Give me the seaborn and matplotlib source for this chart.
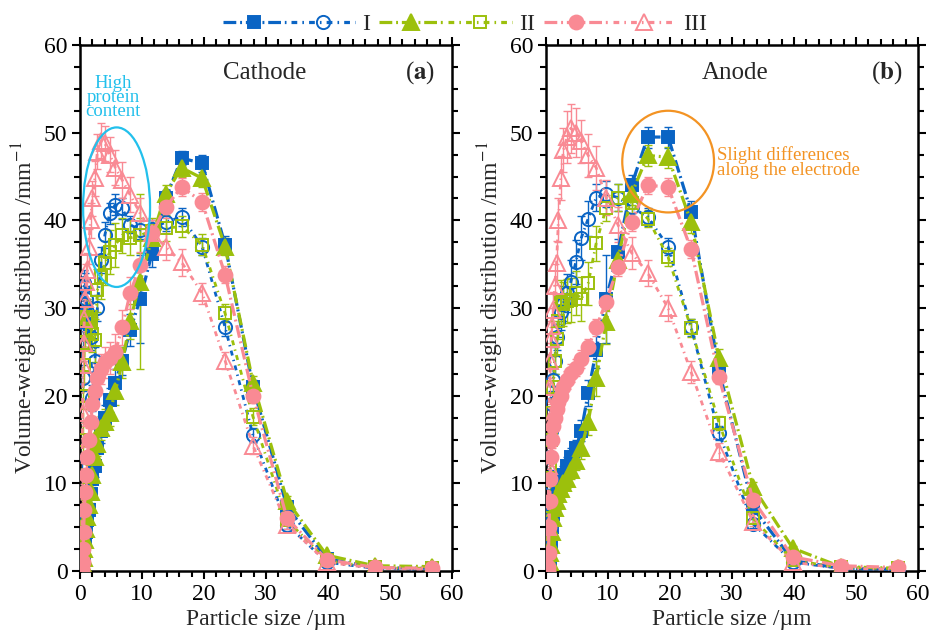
import matplotlib
matplotlib.use("Agg")
import matplotlib.pyplot as plt
import seaborn as sns
from matplotlib.lines import Line2D
from matplotlib.patches import Ellipse
from matplotlib.legend_handler import HandlerTuple
from matplotlib.ticker import MultipleLocator

# particle size bins (um)
size_um = [0.29, 0.34, 0.41, 0.49, 0.58, 0.70, 0.83, 1.0, 1.2, 1.4, 1.7, 2.0, 2.4, 2.8,
           3.4, 4.0, 4.8, 5.7, 6.8, 8.1, 9.7, 11.6, 13.8, 16.4, 19.7, 23.4, 27.9, 33.4,
           39.8, 47.5, 56.7]

# --- cathode (a) ---
cat_I = [0.0, 0.1, 0.3, 0.8, 1.5, 2.5, 3.5, 4.5, 5.8, 7.0, 8.8, 10.5, 12.0, 14.0, 16.0, 17.5,
         19.5, 21.5, 24.0, 27.5, 31.0, 36.2, 42.5, 47.1, 46.5, 37.2, 21.0, 7.3, 1.4, 0.4, 0.3]
cat_I_err = [0.1, 0.2, 0.3, 0.5, 0.6, 0.8, 0.8, 1.0, 1.0, 1.2, 1.2, 1.2, 1.3, 1.3, 1.4, 1.4,
             1.4, 1.5, 1.6, 1.8, 5.0, 1.5, 1.0, 0.8, 1.0, 1.0, 0.8, 0.6, 0.3, 0.2, 0.1]
cat_I_open = [0.0, 12.0, 22.0, 27.0, 30.5, 32.8, 32.5, 31.0, 29.5, 28.0, 26.7, 19.7, 24.0, 30.0,
              35.5, 38.3, 40.8, 41.8, 41.4, 39.5, 38.9, 39.0, 39.8, 40.4, 37.0, 27.8, 15.5, 5.3,
              1.0, 0.3, 0.2]
cat_I_open_err = [0.1, 1.0, 1.5, 1.5, 1.5, 1.5, 1.5, 1.5, 1.5, 1.5, 1.5, 1.5, 1.5, 1.5, 1.5, 1.5,
                  1.2, 1.2, 1.2, 1.0, 1.0, 1.0, 1.0, 1.0, 1.0, 1.0, 0.8, 0.5, 0.3, 0.2, 0.1]
cat_II = [0.0, 0.1, 0.3, 0.8, 1.5, 2.5, 3.5, 4.8, 6.2, 7.5, 9.0, 11.0, 13.0, 14.5, 16.3, 17.0,
          18.0, 20.5, 23.8, 28.5, 33.0, 38.0, 43.0, 46.0, 44.8, 37.0, 21.5, 8.0, 1.8, 0.6, 0.5]
cat_II_err = [0.1, 0.2, 0.3, 0.5, 0.6, 0.8, 0.9, 1.0, 1.0, 1.1, 1.2, 1.2, 1.3, 1.4, 1.4, 1.5,
              1.5, 1.6, 1.8, 2.0, 10.0, 1.5, 1.0, 1.0, 1.0, 1.0, 0.8, 0.6, 0.3, 0.2, 0.1]
cat_II_open = [0.0, 8.0, 15.0, 20.0, 23.5, 26.0, 27.5, 28.5, 29.0, 28.8, 28.6, 27.0, 26.3, 32.0,
               33.5, 35.1, 36.4, 37.2, 38.3, 38.0, 38.3, 38.8, 39.1, 39.3, 37.2, 29.4, 17.6, 5.8,
               1.2, 0.4, 0.3]
cat_II_open_err = [0.1, 1.0, 1.5, 1.5, 2.0, 2.0, 2.0, 2.0, 2.0, 2.0, 2.0, 2.0, 2.5, 2.5, 2.5, 2.5,
                   2.5, 2.5, 2.0, 2.0, 2.0, 1.5, 1.5, 1.2, 1.2, 1.0, 1.0, 0.5, 0.3, 0.2, 0.1]
cat_III = [0.0, 0.3, 1.0, 2.5, 4.5, 7.0, 9.0, 11.0, 13.0, 15.0, 17.0, 19.0, 20.5, 22.0, 23.0,
           23.8, 24.3, 25.0, 27.8, 31.7, 34.9, 38.5, 41.5, 43.8, 42.1, 33.8, 20.0, 6.0, 1.3,
           0.4, 0.3]
cat_III_err = [0.1, 0.2, 0.4, 0.6, 0.8, 1.0, 1.0, 1.2, 1.2, 1.3, 1.4, 1.5, 1.6, 1.6, 1.7, 1.8,
               1.8, 2.0, 2.0, 1.8, 1.5, 1.5, 1.2, 1.0, 1.0, 1.0, 0.8, 0.6, 0.3, 0.2, 0.1]
cat_III_open = [0.0, 10.0, 18.0, 23.5, 26.0, 28.8, 31.0, 33.0, 34.3, 37.0, 40.0, 42.5, 44.8,
                47.8, 49.1, 48.8, 47.5, 46.0, 44.6, 42.9, 40.8, 38.5, 37.0, 35.2, 31.7, 24.0,
                14.3, 5.3, 1.0, 0.3, 0.2]
cat_III_open_err = [0.1, 1.0, 1.5, 2.0, 2.0, 2.0, 2.0, 2.0, 2.0, 2.0, 2.0, 2.0, 2.0, 2.0, 2.0,
                    2.0, 2.0, 2.0, 2.0, 2.0, 1.8, 1.5, 1.5, 1.5, 1.2, 1.0, 1.0, 0.5, 0.3, 0.2, 0.1]

# --- anode (b) ---
an_I = [0.0, 0.1, 0.3, 0.5, 1.0, 2.0, 3.2, 5.0, 6.5, 7.7, 8.5, 9.2, 10.0, 11.0, 12.0, 13.0,
        14.0, 16.0, 20.3, 25.2, 31.0, 36.4, 44.0, 49.5, 49.5, 41.0, 22.9, 7.2, 1.2, 0.3, 0.2]
an_I_err = [0.1, 0.1, 0.2, 0.3, 0.5, 0.6, 0.8, 1.0, 1.0, 1.0, 1.0, 1.0, 1.0, 1.0, 1.0, 1.0,
            1.0, 1.2, 1.5, 2.0, 5.0, 1.5, 1.2, 1.2, 1.2, 1.2, 1.0, 0.6, 0.3, 0.2, 0.1]
an_I_open = [0.0, 2.0, 4.0, 7.0, 10.0, 13.0, 16.0, 19.0, 21.8, 24.0, 26.7, 28.5, 29.5, 30.5,
             31.7, 33.0, 35.2, 38.0, 40.2, 42.6, 43.0, 42.6, 41.5, 40.4, 37.0, 27.8, 15.7, 5.4,
             1.0, 0.3, 0.2]
an_I_open_err = [0.1, 0.5, 0.8, 1.0, 1.2, 1.5, 1.5, 1.5, 1.5, 1.5, 1.5, 1.8, 2.0, 2.0, 2.2, 2.5,
                 2.5, 2.5, 2.0, 1.5, 1.5, 1.5, 1.2, 1.0, 1.0, 1.0, 0.8, 0.5, 0.3, 0.2, 0.1]
an_II = [0.0, 0.1, 0.3, 0.5, 1.0, 2.0, 3.0, 4.5, 6.0, 7.2, 8.0, 8.8, 9.4, 10.0, 10.5, 11.5,
         12.5, 14.0, 17.0, 22.0, 28.4, 35.5, 43.0, 47.4, 47.2, 39.8, 24.3, 9.6, 2.6, 0.5, 0.3]
an_II_err = [0.1, 0.1, 0.2, 0.3, 0.5, 0.6, 0.8, 1.0, 1.0, 1.0, 1.0, 1.0, 1.0, 1.0, 1.0, 1.0,
             1.0, 1.2, 1.5, 2.0, 2.5, 1.5, 1.2, 1.2, 1.2, 1.2, 1.0, 0.6, 0.3, 0.2, 0.1]
an_II_open = [0.0, 1.5, 3.5, 6.0, 9.0, 12.0, 15.0, 18.0, 21.0, 24.0, 26.5, 28.5, 30.7, 30.5,
              30.8, 30.9, 31.7, 31.0, 32.8, 37.4, 41.4, 42.6, 42.0, 40.2, 35.8, 27.7, 16.9, 6.0,
              1.2, 0.4, 0.3]
an_II_open_err = [0.1, 0.5, 0.8, 1.0, 1.2, 1.5, 1.5, 1.5, 1.5, 1.5, 2.0, 2.0, 2.5, 2.5, 2.5, 2.5,
                  2.5, 2.5, 2.5, 2.0, 1.5, 1.5, 1.2, 1.0, 1.0, 1.0, 0.8, 0.5, 0.3, 0.2, 0.1]
an_III = [0.0, 0.5, 2.0, 5.0, 8.0, 10.5, 13.0, 15.0, 16.5, 17.5, 18.5, 19.3, 20.0, 21.0, 21.8,
          22.6, 23.2, 24.2, 25.5, 27.8, 30.7, 34.7, 39.8, 44.0, 43.8, 36.7, 22.1, 8.1, 1.6,
          0.6, 0.4]
an_III_err = [0.1, 0.2, 0.4, 0.6, 0.8, 0.8, 1.0, 1.0, 1.0, 1.0, 1.0, 1.0, 1.0, 1.0, 1.0, 1.0,
              1.0, 1.0, 1.0, 1.0, 1.0, 1.0, 1.0, 1.0, 1.0, 1.0, 0.8, 0.6, 0.3, 0.2, 0.1]
an_III_open = [0.0, 5.0, 12.0, 17.0, 21.0, 24.0, 26.5, 28.0, 29.8, 32.5, 35.1, 40.0, 44.8, 48.0,
               49.5, 50.5, 50.0, 49.0, 47.4, 46.0, 42.6, 39.5, 36.3, 34.0, 30.0, 22.7, 13.6, 5.6,
               1.0, 0.3, 0.2]
an_III_open_err = [0.1, 0.5, 1.0, 1.5, 2.0, 2.0, 2.0, 2.0, 2.0, 2.5, 2.5, 2.5, 2.5, 2.5, 3.0,
                   2.8, 2.8, 2.5, 2.5, 2.5, 2.0, 2.0, 1.8, 1.5, 1.5, 1.2, 1.0, 0.5, 0.3, 0.2, 0.1]

series_labels = ["I", "II", "III"]

sns.set_theme(style="ticks")
plt.rcParams["font.family"] = ["Liberation Serif", "DejaVu Serif"]
plt.rcParams["mathtext.fontset"] = "stix"

BLUE = "#0a64c4"
GREEN = "#9cc00c"
PINK = "#f98a94"
CYAN = "#22c0ec"
ORANGE = "#f39323"

LONG_DASH = (0, (4.0, 1.2, 0.6, 1.2))
SHORT_DASH = (0, (1.8, 1.6, 0.5, 1.6))

# colour, marker, size, filled, line style - one per series slot
styles = [
    (BLUE, "s", 9.0, True, LONG_DASH),
    (BLUE, "o", 9.5, False, SHORT_DASH),
    (GREEN, "^", 11.0, True, LONG_DASH),
    (GREEN, "s", 8.5, False, SHORT_DASH),
    (PINK, "o", 10.0, True, LONG_DASH),
    (PINK, "^", 11.0, False, SHORT_DASH),
]

cathode = [(cat_I, cat_I_err), (cat_I_open, cat_I_open_err), (cat_II, cat_II_err),
           (cat_II_open, cat_II_open_err), (cat_III, cat_III_err), (cat_III_open, cat_III_open_err)]
anode = [(an_I, an_I_err), (an_I_open, an_I_open_err), (an_II, an_II_err),
         (an_II_open, an_II_open_err), (an_III, an_III_err), (an_III_open, an_III_open_err)]


def draw_panel(ax, data):
    for (vals, err), (col, mk, ms, filled, ls) in zip(data, styles):
        ax.errorbar(size_um, vals, yerr=err, fmt="none", ecolor=col, elinewidth=1.0,
                    capsize=3, capthick=1.0, zorder=2)
        sns.lineplot(x=size_um, y=vals, ax=ax, color=col, linestyle=ls,
                     linewidth=2.3 if filled else 2.0, marker=mk, markersize=ms,
                     markerfacecolor=col if filled else "none", markeredgecolor=col,
                     markeredgewidth=1.4, legend=False, zorder=3)


def style_axes(ax):
    ax.set_xlim(0, 60)
    ax.set_ylim(0, 60)
    ax.xaxis.set_major_locator(MultipleLocator(10))
    ax.xaxis.set_minor_locator(MultipleLocator(2))
    ax.yaxis.set_major_locator(MultipleLocator(10))
    ax.yaxis.set_minor_locator(MultipleLocator(2.5))
    ax.tick_params(which="both", direction="out", top=True, right=True, width=1.5,
                   colors="black", labelsize=17)
    ax.tick_params(which="major", length=6, pad=3)
    ax.tick_params(which="minor", length=4)
    for sp in ax.spines.values():
        sp.set_linewidth(1.8)
        sp.set_color("black")
    ax.set_xlabel("Particle size /\u00b5m", fontsize=17, labelpad=3)
    ax.set_ylabel(r"Volume-weight distribution /mm$^{-1}$", fontsize=17, labelpad=3)
    ax.grid(False)


fig = plt.figure(figsize=(9.3, 6.41), dpi=100)
ax_a = fig.add_axes([80 / 930, 70 / 641, 372 / 930, 526 / 641])
ax_b = fig.add_axes([546 / 930, 70 / 641, 372 / 930, 526 / 641])

draw_panel(ax_a, cathode)
draw_panel(ax_b, anode)
style_axes(ax_a)
style_axes(ax_b)

ax_a.text(0.497, 0.947, "Cathode", transform=ax_a.transAxes, ha="center", va="center", fontsize=18)
ax_a.text(0.915, 0.947, r"($\mathbf{a}$)", transform=ax_a.transAxes, ha="center", va="center", fontsize=18)
ax_b.text(0.508, 0.947, "Anode", transform=ax_b.transAxes, ha="center", va="center", fontsize=18)
ax_b.text(0.917, 0.947, r"($\mathbf{b}$)", transform=ax_b.transAxes, ha="center", va="center", fontsize=18)

# annotations
ax_a.add_patch(Ellipse((5.9, 41.5), 10.8, 18.2, fill=False, edgecolor=CYAN, linewidth=1.6, zorder=5))
ax_a.text(5.3, 54.0, "High\nprotein\ncontent", color=CYAN, ha="center", va="center",
          fontsize=13.5, linespacing=0.8)
ax_b.add_patch(Ellipse((19.7, 46.7), 14.8, 11.6, fill=False, edgecolor=ORANGE, linewidth=1.6, zorder=5))
ax_b.text(27.6, 46.6, "Slight differences\nalong the electrode", color=ORANGE, ha="left",
          va="center", fontsize=13.5, linespacing=0.9)

# legend: filled + open marker pairs per label
handles = []
for i in range(3):
    pair = []
    for col, mk, ms, filled, ls in styles[2 * i:2 * i + 2]:
        pair.append(Line2D([], [], color=col, linestyle=ls, linewidth=2.3, marker=mk, markersize=ms,
                           markerfacecolor=col if filled else "none", markeredgecolor=col,
                           markeredgewidth=1.4))
    handles.append(tuple(pair))
fig.legend(handles=handles, labels=series_labels, loc="upper center", bbox_to_anchor=(0.5, 1.012),
           ncol=3, frameon=False, fontsize=17, handlelength=5.6, handletextpad=0.3,
           columnspacing=0.4, handler_map={tuple: HandlerTuple(ndivide=None, pad=0.2)})

fig.savefig("out.png", dpi=100)
